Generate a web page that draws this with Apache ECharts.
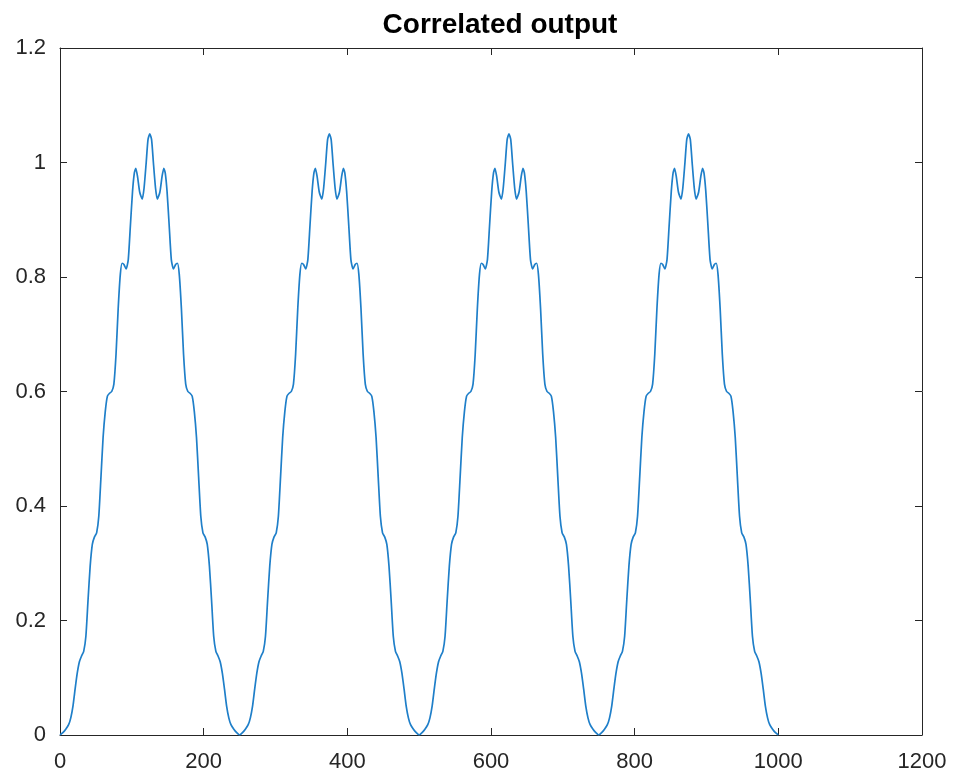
<!DOCTYPE html>
<html>
<head>
<meta charset="utf-8">
<script src="https://cdn.jsdelivr.net/npm/echarts@6/dist/echarts.min.js"></script>
<style>
html,body{margin:0;padding:0;background:#fff;}
#chart{width:958px;height:776px;}
</style>
</head>
<body>
<div id="chart"></div>
<script>
// Chart text
var chartTitle = 'Correlated output';
var xTicks = [0, 200, 400, 600, 800, 1000, 1200];
var yTicks = [0, 0.2, 0.4, 0.6, 0.8, 1, 1.2];

// Sample positions, one list per hump
var xs1 = [0,4,8,12,15,18,21,24,27,30,33,36,39,42,45,48,51,54,57,60,63,66,69,72,75,78,81,84,86.5,89,92,95,98,101,103.5,105.5,108,111,114.5,117,120,122.5,125,127.5,130,133,135.5,139,142,144.5,146.5,149,152,155,158,161,163.5,166,169,172,175,178,181,184,187,190,193,196,199,202,205,208,211,214,217,220,223,226,229,232,235,238,242,246];
var xs2 = [250,254,258,262,265,268,271,274,277,280,283,286,289,292,295,298,301,304,307,310,313,316,319,322,325,328,331,334,336.5,339,342,345,348,351,353.5,355.5,358,361,364.5,367,370,372.5,375,377.5,380,383,385.5,389,392,394.5,396.5,399,402,405,408,411,413.5,416,419,422,425,428,431,434,437,440,443,446,449,452,455,458,461,464,467,470,473,476,479,482,485,488,492,496];
var xs3 = [500,504,508,512,515,518,521,524,527,530,533,536,539,542,545,548,551,554,557,560,563,566,569,572,575,578,581,584,586.5,589,592,595,598,601,603.5,605.5,608,611,614.5,617,620,622.5,625,627.5,630,633,635.5,639,642,644.5,646.5,649,652,655,658,661,663.5,666,669,672,675,678,681,684,687,690,693,696,699,702,705,708,711,714,717,720,723,726,729,732,735,738,742,746];
var xs4 = [750,754,758,762,765,768,771,774,777,780,783,786,789,792,795,798,801,804,807,810,813,816,819,822,825,828,831,834,836.5,839,842,845,848,851,853.5,855.5,858,861,864.5,867,870,872.5,875,877.5,880,883,885.5,889,892,894.5,896.5,899,902,905,908,911,913.5,916,919,922,925,928,931,934,937,940,943,946,949,952,955,958,961,964,967,970,973,976,979,982,985,988,992,996,1000];

// Values, one list per hump
var ys1 = [0,0.004,0.01,0.018,0.03,0.05,0.08,0.108,0.128,0.138,0.146,0.172,0.235,0.295,0.333,0.346,0.353,0.382,0.45,0.52,0.565,0.592,0.597,0.6,0.613,0.665,0.745,0.805,0.824,0.822,0.814,0.83,0.89,0.95,0.982,0.99,0.975,0.948,0.936,0.955,1.0,1.04,1.05,1.04,1.0,0.955,0.936,0.948,0.975,0.99,0.982,0.95,0.89,0.83,0.814,0.822,0.824,0.805,0.745,0.665,0.613,0.6,0.597,0.592,0.565,0.52,0.45,0.382,0.353,0.346,0.333,0.295,0.235,0.172,0.146,0.138,0.128,0.108,0.08,0.05,0.03,0.018,0.01,0.004];
var ys2 = [0,0.004,0.01,0.018,0.03,0.05,0.08,0.108,0.128,0.138,0.146,0.172,0.235,0.295,0.333,0.346,0.353,0.382,0.45,0.52,0.565,0.592,0.597,0.6,0.613,0.665,0.745,0.805,0.824,0.822,0.814,0.83,0.89,0.95,0.982,0.99,0.975,0.948,0.936,0.955,1.0,1.04,1.05,1.04,1.0,0.955,0.936,0.948,0.975,0.99,0.982,0.95,0.89,0.83,0.814,0.822,0.824,0.805,0.745,0.665,0.613,0.6,0.597,0.592,0.565,0.52,0.45,0.382,0.353,0.346,0.333,0.295,0.235,0.172,0.146,0.138,0.128,0.108,0.08,0.05,0.03,0.018,0.01,0.004];
var ys3 = [0,0.004,0.01,0.018,0.03,0.05,0.08,0.108,0.128,0.138,0.146,0.172,0.235,0.295,0.333,0.346,0.353,0.382,0.45,0.52,0.565,0.592,0.597,0.6,0.613,0.665,0.745,0.805,0.824,0.822,0.814,0.83,0.89,0.95,0.982,0.99,0.975,0.948,0.936,0.955,1.0,1.04,1.05,1.04,1.0,0.955,0.936,0.948,0.975,0.99,0.982,0.95,0.89,0.83,0.814,0.822,0.824,0.805,0.745,0.665,0.613,0.6,0.597,0.592,0.565,0.52,0.45,0.382,0.353,0.346,0.333,0.295,0.235,0.172,0.146,0.138,0.128,0.108,0.08,0.05,0.03,0.018,0.01,0.004];
var ys4 = [0,0.004,0.01,0.018,0.03,0.05,0.08,0.108,0.128,0.138,0.146,0.172,0.235,0.295,0.333,0.346,0.353,0.382,0.45,0.52,0.565,0.592,0.597,0.6,0.613,0.665,0.745,0.805,0.824,0.822,0.814,0.83,0.89,0.95,0.982,0.99,0.975,0.948,0.936,0.955,1.0,1.04,1.05,1.04,1.0,0.955,0.936,0.948,0.975,0.99,0.982,0.95,0.89,0.83,0.814,0.822,0.824,0.805,0.745,0.665,0.613,0.6,0.597,0.592,0.565,0.52,0.45,0.382,0.353,0.346,0.333,0.295,0.235,0.172,0.146,0.138,0.128,0.108,0.08,0.05,0.03,0.018,0.01,0.004,0];

var xs = xs1.concat(xs2, xs3, xs4);
var ys = ys1.concat(ys2, ys3, ys4);
var points = xs.map(function (x, i) { return [x, ys[i]]; });

var axisColor = '#262626';
var fontFamily = '"Liberation Sans", Arial, Helvetica, sans-serif';

function xAxisCfg(pos, showLabel) {
  return {
    type: 'value', position: pos,
    min: xTicks[0], max: xTicks[xTicks.length - 1], interval: xTicks[1] - xTicks[0],
    axisLine: { show: true, onZero: false, lineStyle: { color: axisColor, width: 1 } },
    axisTick: { show: true, inside: true, length: 7, lineStyle: { color: axisColor, width: 1 } },
    axisLabel: { show: showLabel, color: axisColor, fontSize: 22, fontFamily: fontFamily, margin: 16,
      formatter: function (v) { return String(v); } },
    splitLine: { show: false }
  };
}
function yAxisCfg(pos, showLabel) {
  return {
    type: 'value', position: pos,
    min: yTicks[0], max: yTicks[yTicks.length - 1], interval: 0.2,
    axisLine: { show: true, onZero: false, lineStyle: { color: axisColor, width: 1 } },
    axisTick: { show: true, inside: true, length: 7, lineStyle: { color: axisColor, width: 1 } },
    axisLabel: { show: showLabel, color: axisColor, fontSize: 22, fontFamily: fontFamily, margin: 14,
      formatter: function (v) { return String(Math.round(v * 10) / 10); } },
    splitLine: { show: false }
  };
}

var chart = echarts.init(document.getElementById('chart'), null, { renderer: 'canvas' });
chart.setOption({
  backgroundColor: '#ffffff',
  animation: false,
  title: {
    text: chartTitle,
    left: 495, top: 6, textAlign: 'center',
    textStyle: { fontSize: 28, fontWeight: 'bold', color: '#000000', fontFamily: fontFamily }
  },
  grid: { left: 60, right: 36, top: 48, bottom: 41, containLabel: false },
  xAxis: [xAxisCfg('bottom', true), xAxisCfg('top', false)],
  yAxis: [yAxisCfg('left', true), yAxisCfg('right', false)],
  series: [{
    type: 'line',
    data: points,
    xAxisIndex: 0, yAxisIndex: 0,
    showSymbol: false,
    smooth: 0.2,
    lineStyle: { color: '#1f7fc9', width: 1.7 }
  }]
});
</script>
</body>
</html>
